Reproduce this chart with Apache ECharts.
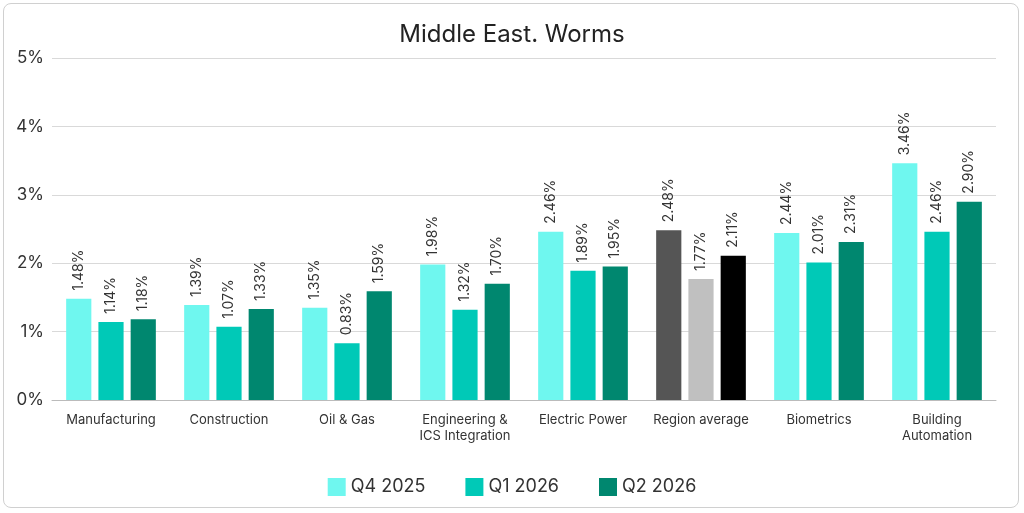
<!DOCTYPE html>
<html>
<head>
<meta charset="utf-8">
<script src="https://cdn.jsdelivr.net/npm/echarts@6/dist/echarts.min.js"></script>
<style>
html,body{margin:0;padding:0;background:#fff;}
#frame{position:absolute;left:3px;top:3px;width:1016px;height:505px;border:1px solid #d0d0d0;border-radius:8px;box-sizing:border-box;}
#chart{position:absolute;left:0;top:0;width:1024px;height:513px;}
</style>
</head>
<body>
<div id="frame"></div>
<div id="chart"></div>
<script>
var categories = ['Manufacturing', 'Construction', 'Oil & Gas', 'Engineering &\nICS Integration', 'Electric Power', 'Region average', 'Biometrics', 'Building\nAutomation'];
var seriesNames = ['Q4 2025', 'Q1 2026', 'Q2 2026'];
var q4 = [1.48, 1.39, 1.35, 1.98, 2.46, 2.48, 2.44, 3.46];
var q1 = [1.14, 1.07, 0.83, 1.32, 1.89, 1.77, 2.01, 2.46];
var q2 = [1.18, 1.33, 1.59, 1.70, 1.95, 2.11, 2.31, 2.90];
var colors = ['#6ff7ef', '#00c9b7', '#00876f'];
var avgColors = ['#555555', '#c0c0c0', '#000000'];
var avgIndex = 5;

var chart = echarts.init(document.getElementById('chart'));
var font = 'Inter, "Noto Sans", sans-serif';

function makeSeries(name, values, k) {
    return {
        name: name,
        type: 'bar',
        barGap: '28%',
        barCategoryGap: '24%',
        itemStyle: { color: colors[k] },
        data: values.map(function (v, i) {
            if (i == avgIndex) return { value: v, itemStyle: { color: avgColors[k] } };
            return v;
        }),
        label: {
            show: true,
            position: 'top',
            rotate: 90,
            align: 'left',
            verticalAlign: 'middle',
            distance: 8,
            color: '#333',
            fontSize: 14,
            fontFamily: font,
            formatter: function (p) { return p.value.toFixed(2) + '%'; }
        }
    };
}

chart.setOption({
    animation: false,
    title: {
        text: 'Middle East. Worms',
        left: 'center',
        top: 18,
        textStyle: { fontSize: 24, fontWeight: 'normal', color: '#222', fontFamily: font }
    },
    legend: {
        bottom: 12,
        itemWidth: 18,
        itemHeight: 18,
        itemGap: 40,
        icon: 'rect',
        textStyle: { fontSize: 18, color: '#333', fontFamily: font }
    },
    grid: { left: 52, right: 28, top: 58, bottom: 113 },
    xAxis: {
        type: 'category',
        data: categories,
        axisTick: { show: false },
        axisLine: { lineStyle: { color: '#bbb' } },
        axisLabel: { color: '#333', fontSize: 13, fontFamily: font, interval: 0, lineHeight: 16, margin: 12 }
    },
    yAxis: {
        type: 'value',
        min: 0,
        max: 5,
        interval: 1,
        axisLabel: { formatter: '{value}%', color: '#333', fontSize: 17, fontFamily: font },
        splitLine: { lineStyle: { color: '#d9d9d9' } }
    },
    series: [
        makeSeries(seriesNames[0], q4, 0),
        makeSeries(seriesNames[1], q1, 1),
        makeSeries(seriesNames[2], q2, 2)
    ]
});
</script>
</body>
</html>
